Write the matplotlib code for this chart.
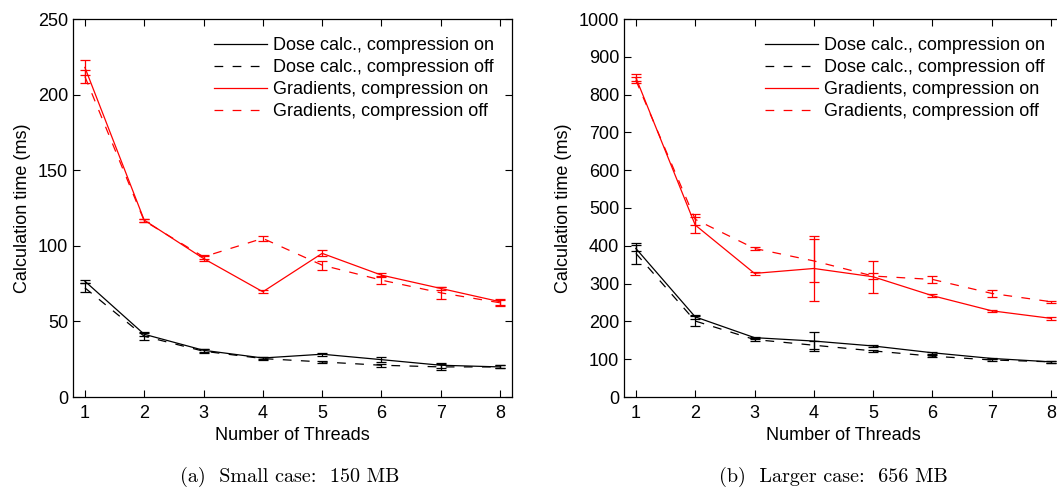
import matplotlib.pyplot as plt
import numpy as np

plt.rcParams['font.family'] = ['Liberation Sans', 'DejaVu Sans']

threads = [1, 2, 3, 4, 5, 6, 7, 8]
labels = ["Dose calc., compression on", "Dose calc., compression off",
          "Gradients, compression on", "Gradients, compression off"]

# (a) small case: 150 MB
small_dose_on = [76.6, 41.5, 30.9, 25.8, 28.3, 24.7, 21.0, 19.9]
small_dose_on_err = [1.0, 1.0, 1.0, 0.8, 1.0, 1.5, 1.5, 1.0]
small_dose_off = [72.2, 40.2, 30.3, 25.4, 23.2, 21.0, 19.9, 19.9]
small_dose_off_err = [3.0, 2.5, 1.5, 0.8, 0.5, 1.0, 2.0, 1.0]
small_grad_on = [218.0, 117.0, 91.6, 69.6, 95.0, 80.6, 71.8, 63.0]
small_grad_on_err = [5.0, 1.0, 1.5, 1.0, 2.0, 1.5, 1.0, 2.0]
small_grad_off = [212.0, 116.5, 92.7, 104.9, 87.2, 77.3, 68.9, 62.3]
small_grad_off_err = [4.0, 1.0, 1.5, 1.5, 3.0, 2.5, 4.0, 2.0]

# (b) larger case: 656 MB
large_dose_on = [393, 212, 157, 148, 135, 117, 102, 93]
large_dose_on_err = [8, 5, 3, 25, 2, 2, 2, 2]
large_dose_off = [380, 201, 152, 137, 122, 108, 98, 93]
large_dose_off_err = [28, 12, 3, 10, 2, 3, 2, 2]
large_grad_on = [845, 455, 327, 340, 318, 268, 228, 208]
large_grad_on_err = [10, 20, 3, 85, 43, 4, 3, 4]
large_grad_off = [838, 470, 393, 360, 320, 311, 274, 252]
large_grad_off_err = [8, 15, 5, 57, 8, 10, 10, 3]

W, H = 1057, 488
DASH = (7, 7.5)
fig = plt.figure(figsize=(W / 100, H / 100), dpi=100)


def draw(ax, series, ymax, ystep, right_ticks=True):
    styles = [('k', '-'), ('k', '--'), ('r', '-'), ('r', '--')]
    for (y, e), (c, ls), lab in zip(series, styles, labels):
        line = ax.errorbar(threads, y, yerr=e, color=c, lw=0.9, elinewidth=0.9,
                           capsize=3.5, capthick=0.9, label=lab)
        if ls == '--':
            line[0].set_dashes(DASH)
    ax.set_xlim(0.8, 8.2)
    ax.set_ylim(0, ymax)
    ax.set_xticks(threads)
    ax.set_yticks(np.arange(0, ymax + 1, ystep))
    ax.tick_params(direction='in', top=True, right=right_ticks, labelsize=13, length=5)
    ax.tick_params(axis='x', pad=6)
    ax.set_xlabel("Number of Threads", fontsize=13, labelpad=3.5)
    ax.set_ylabel("Calculation time (ms)", fontsize=13, labelpad=5)
    handles, labs = ax.get_legend_handles_labels()
    handles = [h[0] for h in handles]
    leg = ax.legend(handles, labs, loc='upper right', frameon=False, fontsize=13,
                    handlelength=2.9, handletextpad=0.35, labelspacing=0.28,
                    borderaxespad=0.6, bbox_to_anchor=(1.0, 1.0))
    for lh in leg.get_lines():
        if lh.get_linestyle() != '-':
            lh.set_dashes(DASH)
    for sp in ax.spines.values():
        sp.set_linewidth(0.9)


ax1 = fig.add_axes([73 / W, 91 / H, (512 - 73) / W, 378 / H])
draw(ax1, [(small_dose_on, small_dose_on_err), (small_dose_off, small_dose_off_err),
           (small_grad_on, small_grad_on_err), (small_grad_off, small_grad_off_err)],
     250, 50)

ax2 = fig.add_axes([624 / W, 91 / H, (1063 - 624) / W, 378 / H])
draw(ax2, [(large_dose_on, large_dose_on_err), (large_dose_off, large_dose_off_err),
           (large_grad_on, large_grad_on_err), (large_grad_off, large_grad_off_err)],
     1000, 100, right_ticks=False)

fig.text(290 / W, 1 - 477 / H, "(a)  Small case:  150 MB", family='cmr10',
         ha='center', va='center', fontsize=14.5)
fig.text(833 / W, 1 - 477 / H, "(b)  Larger case:  656 MB", family='cmr10',
         ha='center', va='center', fontsize=14.5)

fig.savefig("out.png", dpi=100)
